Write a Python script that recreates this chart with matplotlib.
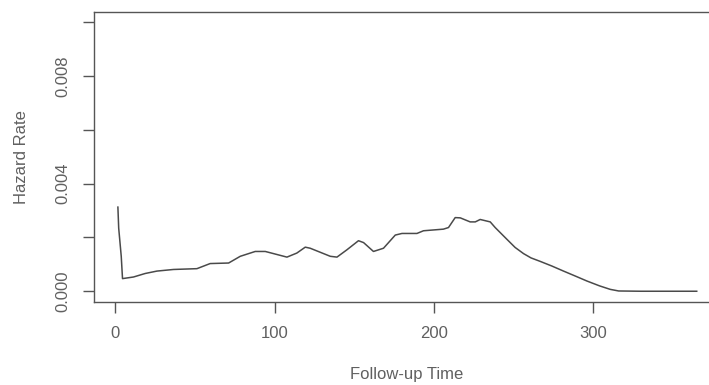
import matplotlib
matplotlib.use("Agg")
import matplotlib.pyplot as plt
import numpy as np

# Hazard rate curve
follow_up = [1.7, 2.2, 3.8, 4.6, 11.5, 18.8, 26.2, 36.6, 51.3, 59.6, 71.2, 78.5,
             87.9, 94.2, 107.8, 114, 119.3, 122.4, 135, 139.2, 145.4, 152.7,
             155.9, 162.1, 168.4, 175.8, 180, 189.4, 193.5, 206, 209.2, 213.4,
             216.6, 222.8, 226, 229.1, 235.4, 238.5, 245.9, 251, 256.3, 261,
             266.8, 274, 281.4, 289, 296.1, 304, 310.7, 316, 330, 345, 365]
hazard = [0.00313, 0.00235, 0.0013, 0.00047, 0.00053, 0.00066, 0.00075, 0.00081,
          0.00084, 0.00103, 0.00105, 0.0013, 0.00148, 0.00148, 0.00127, 0.00142,
          0.00164, 0.0016, 0.0013, 0.00127, 0.00154, 0.00188, 0.00181, 0.00148,
          0.0016, 0.00209, 0.00215, 0.00215, 0.00225, 0.00231, 0.00237, 0.00274,
          0.00273, 0.00258, 0.00258, 0.00267, 0.00258, 0.00237, 0.00193, 0.00163,
          0.00140, 0.00124, 0.00111, 0.00094, 0.00075, 0.00056, 0.00038, 0.00020,
          0.00007, 0.00001, 0.0, 0.0, 0.0]

x_ticks = [0, 100, 200, 300]
y_ticks = [0.0, 0.002, 0.004, 0.006, 0.008, 0.010]
y_tick_labels = ["0.000", "", "0.004", "", "0.008", ""]

plt.rcParams["font.family"] = ["Liberation Sans", "DejaVu Sans"]
text_col = "#606060"
axis_col = "#555555"

fig = plt.figure(figsize=(7.09, 3.85), dpi=100)
# the plot box runs past the right edge of the picture, as in the reference
ax = fig.add_axes([0.1319, 0.2156, 0.8836, 0.754])

ax.plot(follow_up, hazard, color="#4a4a4a", lw=1.1)

ax.set_xlim(-13.6, 379.6)
ax.set_ylim(-0.0004, 0.0104)

ax.set_xticks(x_ticks)
ax.set_xticklabels([str(t) for t in x_ticks])
ax.set_yticks(y_ticks)
ax.set_yticklabels(y_tick_labels, rotation=90, va="center")

for s in ax.spines.values():
    s.set_color(axis_col)
    s.set_linewidth(1.0)

ax.tick_params(axis="both", colors=axis_col, labelcolor=text_col,
               length=8, width=1.0, labelsize=12, pad=9)

ax.set_xlabel("Follow-up Time", color=text_col, fontsize=12, labelpad=19)
ax.set_ylabel("Hazard Rate", color=text_col, fontsize=12, labelpad=19)

fig.savefig("out.png", dpi=100)
